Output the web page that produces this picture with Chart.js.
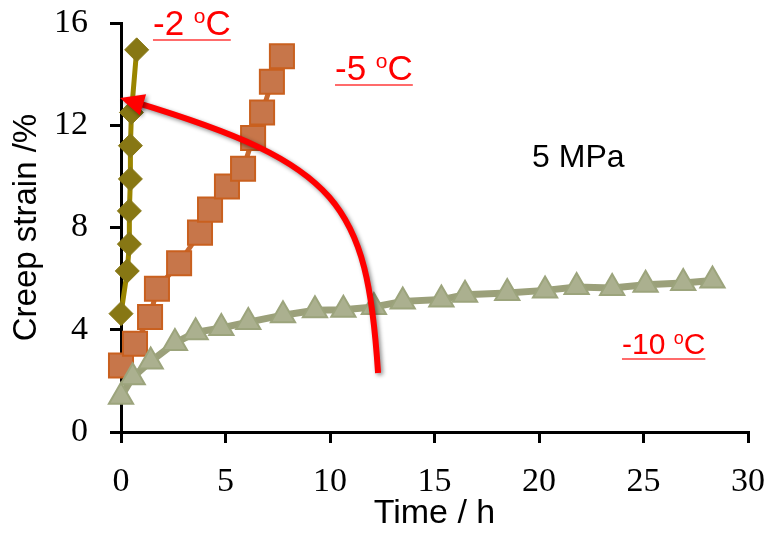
<!DOCTYPE html>
<html>
<head>
<meta charset="utf-8">
<script src="https://cdn.jsdelivr.net/npm/chart.js@4.4.1/dist/chart.umd.min.js"></script>
<style>
  html, body { margin: 0; padding: 0; background: #fff; }
  #wrap { width: 769px; height: 535px; }
</style>
</head>
<body>
<div id="wrap"><canvas id="creepChart" width="769" height="535"></canvas></div>
<script>
// Creep strain vs time at 5 MPa, three test temperatures

// -10 oC (triangles)
const time10 = [0, 0.56, 1.42, 2.58, 3.57, 4.8, 6.09, 7.75, 9.28, 10.64, 12.1, 13.48, 15.33, 16.46, 18.48, 20.29, 21.8, 23.5, 25.1, 26.9, 28.3];
const strain10 = [1.38, 2.14, 2.76, 3.48, 3.9, 4.07, 4.3, 4.57, 4.76, 4.78, 4.89, 5.11, 5.18, 5.37, 5.44, 5.54, 5.67, 5.63, 5.76, 5.83, 5.93];

// -5 oC (squares)
const time5 = [0, 0.67, 1.39, 1.72, 2.78, 3.78, 4.26, 5.07, 5.84, 6.32, 6.75, 7.22, 7.7];
const strain5 = [2.6, 3.45, 4.5, 5.6, 6.6, 7.8, 8.7, 9.6, 10.3, 11.5, 12.5, 13.7, 14.7];

// -2 oC (diamonds)
const time2 = [0, 0.3, 0.4, 0.4, 0.45, 0.45, 0.5, 0.75];
const strain2 = [4.63, 6.3, 7.35, 8.65, 9.9, 11.2, 12.5, 14.95];

const xTicks = [0, 5, 10, 15, 20, 25, 30];
const yTicks = [0, 4, 8, 12, 16];

// annotations, in data units (hours, %)
const tempLabels = [
    { pre: '-2 ', sup: 'o', post: 'C', x: 1.53, y: 15.53, size: 35 },
    { pre: '-5 ', sup: 'o', post: 'C', x: 10.24, y: 13.77, size: 35 },
    { pre: '-10 ', sup: 'o', post: 'C', x: 23.97, y: 3.05, size: 30 }
];
const stressLabel = { text: '5 MPa', x: 19.67, y: 10.37, size: 32 };
// bezier for the red arrow: start, ctrl1, ctrl2, tip
const arrowPath = [[12.30, 2.31], [11.77, 8.96], [10.48, 10.48], [-0.05, 13.07]];

const toXY = (arr, xs) => arr.map((v, i) => ({ x: xs[i], y: v }));

const sans = '"Liberation Sans", Arial, sans-serif';
const serif = '"Liberation Serif", "Times New Roman", serif';

const annotationPlugin = {
    id: 'annotations',
    afterDatasetsDraw(chart) {
        const ctx = chart.ctx;
        const xs = chart.scales.x, ys = chart.scales.y;
        const px = p => [xs.getPixelForValue(p[0]), ys.getPixelForValue(p[1])];

        ctx.save();
        // curved arrow with a soft shadow
        const pts = arrowPath.map(px);
        ctx.shadowColor = 'rgba(0,0,0,0.45)';
        ctx.shadowBlur = 4;
        ctx.shadowOffsetX = 2;
        ctx.shadowOffsetY = 2;
        ctx.strokeStyle = '#ff0000';
        ctx.lineWidth = 6;
        ctx.lineCap = 'butt';
        ctx.beginPath();
        ctx.moveTo(pts[0][0], pts[0][1]);
        ctx.bezierCurveTo(pts[1][0], pts[1][1], pts[2][0], pts[2][1], pts[3][0] + 14, pts[3][1] + 4);
        ctx.stroke();

        const tip = pts[3];
        let dx = tip[0] - pts[2][0], dy = tip[1] - pts[2][1];
        const len = Math.hypot(dx, dy);
        dx /= len; dy /= len;
        const hl = 24, hw = 11;
        const bx = tip[0] - dx * hl, by = tip[1] - dy * hl;
        ctx.fillStyle = '#ff0000';
        ctx.beginPath();
        ctx.moveTo(tip[0], tip[1]);
        ctx.lineTo(bx - dy * hw, by + dx * hw);
        ctx.lineTo(bx + dy * hw, by - dx * hw);
        ctx.closePath();
        ctx.fill();
        ctx.restore();

        // temperature labels, underlined, with superscript o
        ctx.save();
        ctx.textBaseline = 'alphabetic';
        ctx.textAlign = 'left';
        tempLabels.forEach(l => {
            const [x, y] = px([l.x, l.y]);
            const main = l.size + 'px ' + sans;
            const small = Math.round(l.size * 0.6) + 'px ' + sans;
            ctx.fillStyle = '#ff0000';
            ctx.font = main;
            ctx.fillText(l.pre, x, y);
            const w1 = ctx.measureText(l.pre).width;
            ctx.font = small;
            ctx.fillText(l.sup, x + w1, y - l.size * 0.34);
            const w2 = ctx.measureText(l.sup).width;
            ctx.font = main;
            ctx.fillText(l.post, x + w1 + w2, y);
            const w3 = ctx.measureText(l.post).width;
            ctx.strokeStyle = '#ff6b6b';
            ctx.lineWidth = 2;
            ctx.beginPath();
            ctx.moveTo(x, y + 5);
            ctx.lineTo(x + w1 + w2 + w3, y + 5);
            ctx.stroke();
        });

        const [sx, sy] = px([stressLabel.x, stressLabel.y]);
        ctx.fillStyle = '#000';
        ctx.font = stressLabel.size + 'px ' + sans;
        ctx.fillText(stressLabel.text, sx, sy);
        ctx.restore();
    }
};

new Chart(document.getElementById('creepChart').getContext('2d'), {
    type: 'line',
    data: {
        datasets: [
            {
                label: '-10 oC',
                data: toXY(strain10, time10),
                borderColor: '#9ba07a',
                borderWidth: 7,
                pointStyle: 'triangle',
                pointRadius: 14,
                pointBackgroundColor: '#abb08f',
                pointBorderColor: '#9ca47c',
                pointBorderWidth: 2,
                clip: false
            },
            {
                label: '-5 oC',
                data: toXY(strain5, time5),
                borderColor: '#c8692f',
                borderWidth: 5,
                pointStyle: 'rect',
                pointRadius: 17,
                pointBackgroundColor: '#c7764a',
                pointBorderColor: '#c9601f',
                pointBorderWidth: 2,
                clip: false
            },
            {
                label: '-2 oC',
                data: toXY(strain2, time2),
                borderColor: '#9a8500',
                borderWidth: 5,
                pointStyle: 'rectRot',
                pointRadius: 12,
                pointBackgroundColor: '#877714',
                pointBorderColor: '#877714',
                pointBorderWidth: 1,
                clip: false
            }
        ]
    },
    options: {
        responsive: false,
        animation: false,
        devicePixelRatio: 1,
        layout: { padding: { top: 23, right: 21, left: 0, bottom: 0 } },
        elements: { line: { tension: 0 } },
        plugins: {
            legend: { display: false },
            tooltip: { enabled: false }
        },
        scales: {
            x: {
                type: 'linear',
                min: 0,
                max: 30,
                afterBuildTicks: s => { s.ticks = xTicks.map(v => ({ value: v })); },
                afterFit: s => {
                    s.height = 103;
                    s.paddingLeft = 0;
                    s.paddingRight = 0;
                },
                grid: { drawOnChartArea: false, drawTicks: true, tickLength: 11, color: '#000', lineWidth: 3 },
                border: { display: true, color: '#000', width: 3 },
                ticks: { color: '#000', padding: 19, font: { family: serif, size: 34 } },
                title: {
                    display: true,
                    text: 'Time / h',
                    color: '#000',
                    font: { family: sans, size: 34 },
                    padding: { top: 0, bottom: 1 }
                }
            },
            y: {
                type: 'linear',
                min: 0,
                max: 16,
                afterBuildTicks: s => { s.ticks = yTicks.map(v => ({ value: v })); },
                afterFit: s => {
                    s.width = 121;
                    s.paddingTop = 0;
                    s.paddingBottom = 0;
                },
                grid: { drawOnChartArea: false, drawTicks: true, tickLength: 11, color: '#000', lineWidth: 3 },
                border: { display: true, color: '#000', width: 3 },
                ticks: { color: '#000', padding: 22, font: { family: serif, size: 34 } },
                title: {
                    display: true,
                    text: 'Creep strain /%',
                    color: '#000',
                    font: { family: sans, size: 33 },
                    padding: { top: 7, bottom: 0 }
                }
            }
        }
    },
    plugins: [annotationPlugin]
});
</script>
</body>
</html>
